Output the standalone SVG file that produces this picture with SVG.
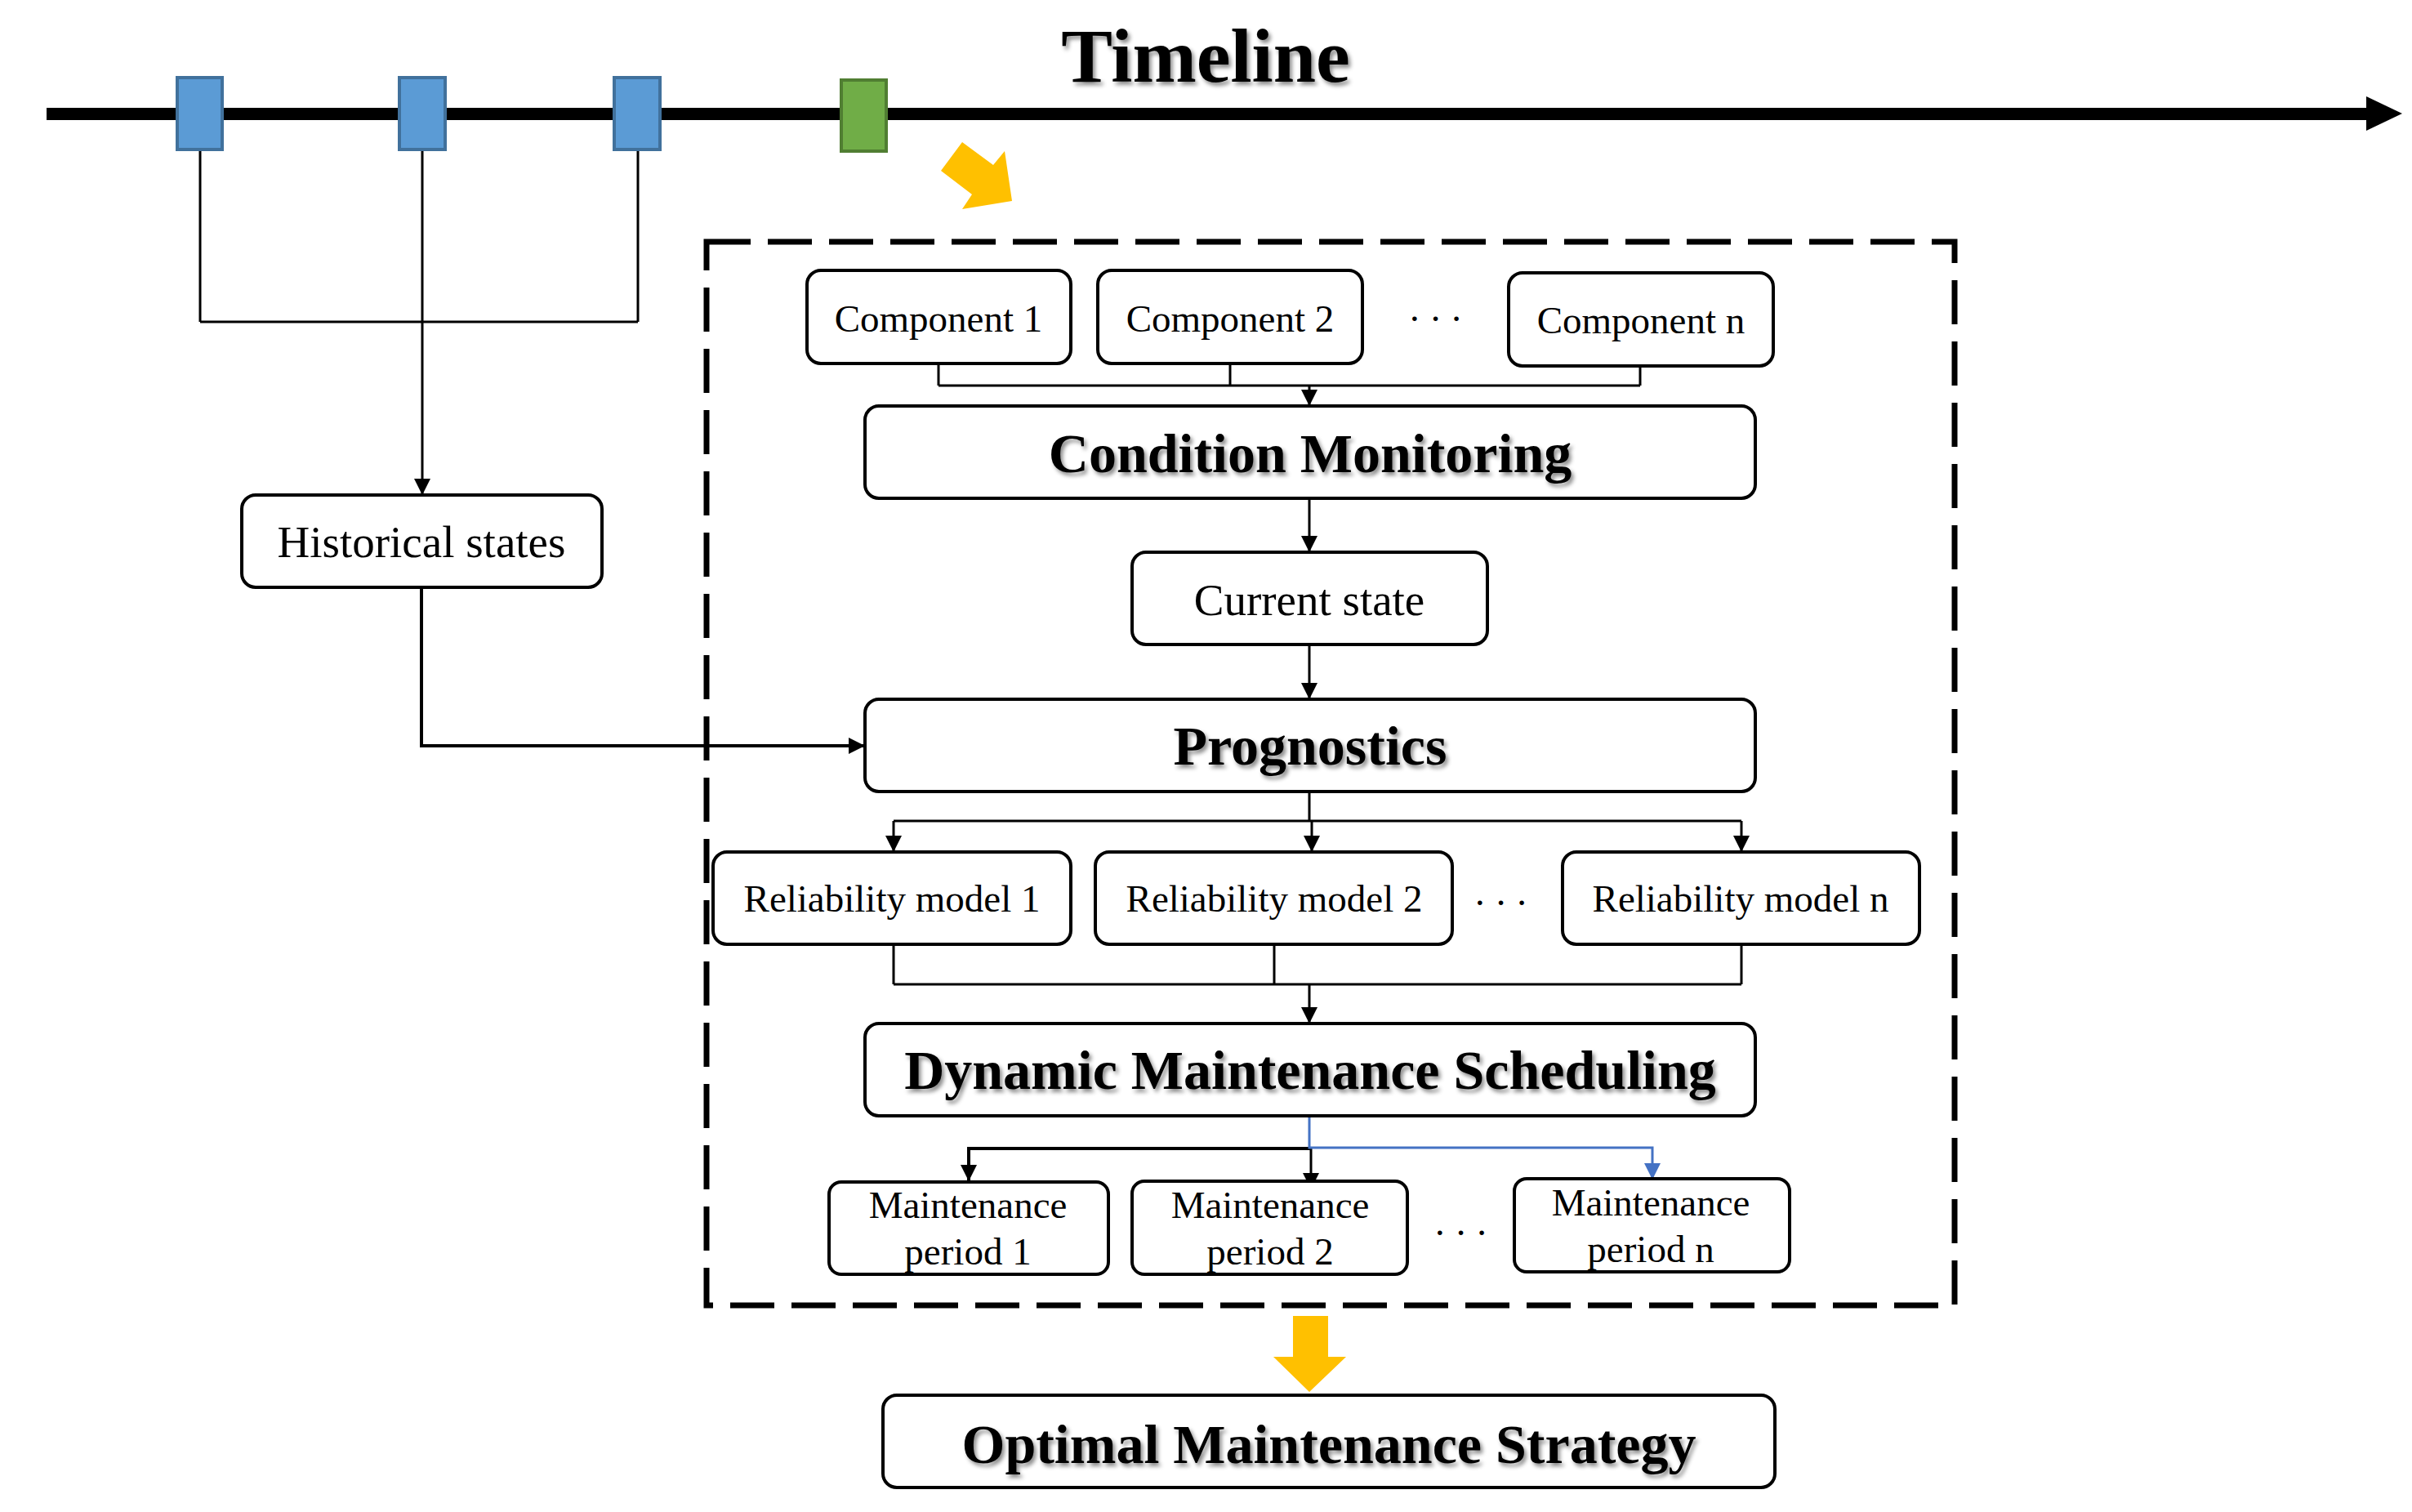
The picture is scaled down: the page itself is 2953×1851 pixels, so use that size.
<svg xmlns="http://www.w3.org/2000/svg" width="2953" height="1851" viewBox="0 0 2953 1851">
<defs>
<style>
.box{fill:#fff;stroke:#000;stroke-width:4}
.t{font-family:"Liberation Serif","Times New Roman",serif;fill:#000;text-anchor:middle}
.n{font-size:47px}
.m{font-size:55px}
.b{font-size:68px;font-weight:bold}
.c{fill:none;stroke:#000;stroke-width:3}
.c4{fill:none;stroke:#000;stroke-width:4}
.blue{fill:#5b9bd5;stroke:#41719c;stroke-width:4}
.dots{font-family:"Liberation Serif","Times New Roman",serif;font-size:47px;letter-spacing:10px}
</style>
<filter id="sh" x="-10%" y="-20%" width="120%" height="150%">
<feDropShadow dx="3" dy="4" stdDeviation="2.5" flood-color="#000" flood-opacity="0.45"/>
</filter>
<marker id="ah" viewBox="0 0 20 20" markerWidth="20" markerHeight="20" refX="20" refY="10" orient="auto" markerUnits="userSpaceOnUse"><path d="M0,0 L20,10 L0,20 z" fill="#000"/></marker>
<marker id="ahb" viewBox="0 0 20 20" markerWidth="20" markerHeight="20" refX="20" refY="10" orient="auto" markerUnits="userSpaceOnUse"><path d="M0,0 L20,10 L0,20 z" fill="#4472c4"/></marker>
</defs>

<g id="timeline">
<rect x="57" y="132" width="2844" height="15" fill="#000"/>
<polygon points="2897,118 2941,139 2897,160" fill="#000"/>
<text class="t b" x="1476" y="100" style="font-size:94px" filter="url(#sh)">Timeline</text>
</g>

<g id="connectors">
<path class="c" d="M245,185 V394 M781,185 V394 M245,394 H781"/>
<path class="c" d="M517,185 V606" marker-end="url(#ah)"/>
<path class="c4" d="M516,719 V913 H1059" marker-end="url(#ah)"/>
<path class="c" d="M1149,445 V472 M1506,445 V472 M2008,448 V472 M1149,472 H2008"/>
<path class="c" d="M1603,472 V497" marker-end="url(#ah)"/>
<path class="c" d="M1603,610 V676" marker-end="url(#ah)"/>
<path class="c" d="M1603,789 V856" marker-end="url(#ah)"/>
<path class="c" d="M1603,969 V1005 M1094,1005 H2132"/>
<path class="c" d="M1094,1005 V1043" marker-end="url(#ah)"/>
<path class="c" d="M1606,1005 V1043" marker-end="url(#ah)"/>
<path class="c" d="M2132,1005 V1043" marker-end="url(#ah)"/>
<path class="c" d="M1094,1156 V1205 M1560,1156 V1205 M2132,1156 V1205 M1094,1205 H2132"/>
<path class="c" d="M1603,1205 V1253" marker-end="url(#ah)"/>
<path class="c4" d="M1605,1406 H1186 V1446" marker-end="url(#ah)"/>
<path class="c" d="M1605,1406 V1456" marker-end="url(#ah)"/>
<path d="M1603,1366 V1405 H2023 V1444" fill="none" stroke="#4472c4" stroke-width="3" marker-end="url(#ahb)"/>
</g>

<g id="time-points">
<rect class="blue" x="217" y="95" width="55" height="88"/>
<rect class="blue" x="489" y="95" width="56" height="88"/>
<rect class="blue" x="752" y="95" width="56" height="88"/>
<rect x="1030" y="98" width="55" height="87" fill="#70ad47" stroke="#507e32" stroke-width="4"/>
</g>

<g id="yellow-arrow-1">
<polygon points="1152,209 1178,174 1216,202 1230,185 1239,246 1178,256 1190,238" fill="#ffc000"/>
</g>

<g id="dashed-frame">
<rect x="865" y="296" width="1528" height="1302" fill="none" stroke="#000" stroke-width="7" stroke-dasharray="54 21"/>
</g>

<g id="historical-states">
<rect class="box" x="296" y="606" width="441" height="113" rx="17"/>
<text class="t m" x="516" y="682">Historical states</text>
</g>

<g id="component-1">
<rect class="box" x="988" y="331" width="323" height="114" rx="17"/>
<text class="t n" x="1149" y="406">Component 1</text>
</g>
<g id="component-2">
<rect class="box" x="1344" y="331" width="324" height="114" rx="17"/>
<text class="t n" x="1506" y="406">Component 2</text>
</g>
<text class="dots" x="1724" y="406">···</text>
<g id="component-n">
<rect class="box" x="1847" y="334" width="324" height="114" rx="17"/>
<text class="t n" x="2009" y="408">Component n</text>
</g>

<g id="condition-monitoring">
<rect class="box" x="1059" y="497" width="1090" height="113" rx="17"/>
<text class="t b" x="1604" y="578" filter="url(#sh)">Condition Monitoring</text>
</g>

<g id="current-state">
<rect class="box" x="1386" y="676" width="435" height="113" rx="17"/>
<text class="t m" x="1603" y="753">Current state</text>
</g>

<g id="prognostics">
<rect class="box" x="1059" y="856" width="1090" height="113" rx="17"/>
<text class="t b" x="1604" y="936" filter="url(#sh)">Prognostics</text>
</g>

<g id="reliability-model-1">
<rect class="box" x="873" y="1043" width="438" height="113" rx="17"/>
<text class="t n" x="1092" y="1116">Reliability model 1</text>
</g>
<g id="reliability-model-2">
<rect class="box" x="1341" y="1043" width="437" height="113" rx="17"/>
<text class="t n" x="1560" y="1116">Reliability model 2</text>
</g>
<text class="dots" x="1804" y="1121">···</text>
<g id="reliability-model-n">
<rect class="box" x="1913" y="1043" width="437" height="113" rx="17"/>
<text class="t n" x="2131" y="1116">Reliability model n</text>
</g>

<g id="dynamic-maintenance-scheduling">
<rect class="box" x="1059" y="1253" width="1090" height="113" rx="17"/>
<text class="t b" x="1604" y="1333" filter="url(#sh)">Dynamic Maintenance Scheduling</text>
</g>

<g id="maintenance-period-1">
<rect class="box" x="1015" y="1447" width="342" height="113" rx="15"/>
<text class="t n" x="1185" y="1491">Maintenance</text>
<text class="t n" x="1185" y="1548">period 1</text>
</g>
<g id="maintenance-period-2">
<rect class="box" x="1386" y="1446" width="337" height="114" rx="15"/>
<text class="t n" x="1555" y="1491">Maintenance</text>
<text class="t n" x="1555" y="1548">period 2</text>
</g>
<text class="dots" x="1755" y="1525">···</text>
<g id="maintenance-period-n">
<rect class="box" x="1854" y="1443" width="337" height="114" rx="15"/>
<text class="t n" x="2021" y="1488">Maintenance</text>
<text class="t n" x="2021" y="1545">period n</text>
</g>

<g id="yellow-arrow-2">
<polygon points="1583,1611 1626,1611 1626,1661 1648,1661 1603,1704 1559,1661 1583,1661" fill="#ffc000"/>
</g>

<g id="optimal-maintenance-strategy">
<rect class="box" x="1081" y="1708" width="1092" height="113" rx="17"/>
<text class="t b" x="1627" y="1791" filter="url(#sh)">Optimal Maintenance Strategy</text>
</g>
</svg>
